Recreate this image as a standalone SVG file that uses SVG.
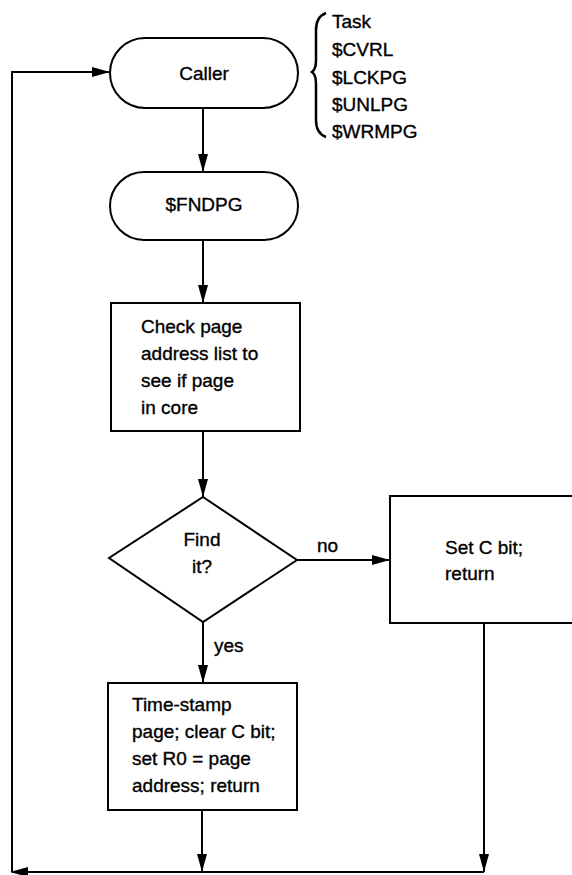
<svg xmlns="http://www.w3.org/2000/svg" width="572" height="875" viewBox="0 0 572 875">
<style>
  .shape { fill: #fff; stroke: #000; stroke-width: 2; }
  .conn { fill: none; stroke: #000; stroke-width: 2; }
  text { font-family: "Liberation Sans", Arial, sans-serif; font-size: 19px; fill: #000; stroke: #000; stroke-width: 0.35; }
  .mid { text-anchor: middle; }
</style>
<defs>
  <marker id="ah" markerWidth="18" markerHeight="10" refX="18" refY="5" orient="auto" markerUnits="userSpaceOnUse">
    <path d="M0,0 L18,5 L0,10 Z" fill="#000"/>
  </marker>
</defs>
<rect width="572" height="875" fill="#fff"/>

<g id="connectors">
  <path class="conn" d="M203,108 L203,172" marker-end="url(#ah)"/>
  <path class="conn" d="M203,240 L203,303" marker-end="url(#ah)"/>
  <path class="conn" d="M203,431 L203,497" marker-end="url(#ah)"/>
  <path class="conn" d="M297,560 L390,560" marker-end="url(#ah)"/>
  <path class="conn" d="M203,622 L203,683" marker-end="url(#ah)"/>
  <path class="conn" d="M202,810 L202,872" marker-end="url(#ah)"/>
  <path class="conn" d="M484,623 L484,872" marker-end="url(#ah)"/>
  <path class="conn" d="M484,872 L12,872"/>
  <path d="M10,872 L28,867 L28,877 Z" fill="#000"/>
  <path class="conn" d="M12,872 L12,72 L110,72" marker-end="url(#ah)"/>
</g>

<g id="caller">
  <rect class="shape" x="110" y="38" width="188" height="70" rx="35" ry="35"/>
  <text class="mid" x="204" y="80">Caller</text>
</g>

<g id="callers-list">
  <path d="M326,13 C318,16 316,22 316,30 L316,60 C316,66 315,70 312,72 C315,74 316,78 316,84 L316,120 C316,128 318,134 326,137" fill="none" stroke="#000" stroke-width="2.5"/>
  <text x="332" y="28">Task</text>
  <text x="332" y="56">$CVRL</text>
  <text x="332" y="84">$LCKPG</text>
  <text x="332" y="111">$UNLPG</text>
  <text x="332" y="138">$WRMPG</text>
</g>

<g id="fndpg">
  <rect class="shape" x="110" y="172" width="188" height="68" rx="34" ry="34"/>
  <text class="mid" x="204" y="211">$FNDPG</text>
</g>

<g id="check">
  <rect class="shape" x="111" y="303" width="189" height="128"/>
  <text x="141" y="333">Check page</text>
  <text x="141" y="360">address list to</text>
  <text x="141" y="387">see if page</text>
  <text x="141" y="414">in core</text>
</g>

<g id="find">
  <polygon class="shape" points="203,497 297,560 203,622 109,558"/>
  <text class="mid" x="202" y="546">Find</text>
  <text class="mid" x="202" y="573">it?</text>
</g>

<g id="label-no">
  <text x="317" y="552">no</text>
</g>
<g id="label-yes">
  <text x="214" y="652">yes</text>
</g>

<g id="setc">
  <rect class="shape" x="390" y="496" width="200" height="127"/>
  <text x="445" y="554">Set C bit;</text>
  <text x="445" y="580">return</text>
</g>

<g id="timestamp">
  <rect class="shape" x="108" y="683" width="189" height="127"/>
  <text x="132" y="711">Time-stamp</text>
  <text x="132" y="738">page; clear C bit;</text>
  <text x="132" y="765">set R0 = page</text>
  <text x="132" y="792">address; return</text>
</g>
</svg>
